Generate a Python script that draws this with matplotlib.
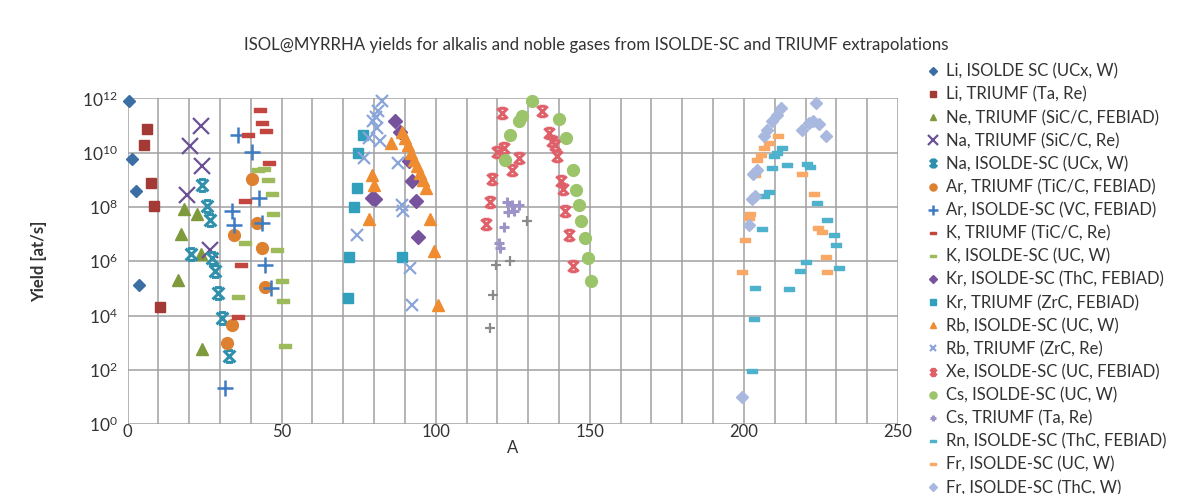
import matplotlib
matplotlib.use("Agg")
import matplotlib.pyplot as plt
from matplotlib.path import Path
from matplotlib.ticker import MultipleLocator, FixedLocator

plt.rcParams['font.family'] = ['Lato', 'DejaVu Sans']

# ---------------- data (A, yield at/s) ----------------
li_iso_A = [0.5, 1.3, 2.6, 3.8]
li_iso_Y = [8e11, 6e9, 4e8, 1.3e5]

li_tri_A = [6.4, 5.5, 7.6, 8.7, 10.6]
li_tri_Y = [7.4e10, 1.9e10, 7.6e8, 1.05e8, 2.1e4]

ne_tri_A = [18.4, 22.5, 17.4, 23.9, 16.3, 24.3]
ne_tri_Y = [8.5e7, 5.5e7, 1e7, 1.9e6, 2e5, 6e2]

na_tri_A = [23.9, 20.3, 24.3, 19.2, 26.8]
na_tri_Y = [1.0e11, 1.7e10, 3.3e9, 2.7e8, 2.5e6]

na_iso_A = [24.3, 25.8, 26.8, 20.5, 27.5, 28.5, 29.3, 30.6, 33.0]
na_iso_Y = [6.6e8, 1.05e8, 3.4e7, 1.9e6, 1.3e6, 4.5e5, 6.6e4, 8e3, 3.1e2]

ar_tri_A = [40.3, 34.7, 43.6, 42.0, 44.6, 33.8, 32.2]
ar_tri_Y = [1.1e9, 9.3e6, 3.2e6, 2.6e7, 1.1e5, 4.3e3, 9.5e2]

ar_iso_A = [36.0, 40.3, 42.8, 33.8, 34.6, 43.8, 44.6, 46.6, 31.5]
ar_iso_Y = [4.6e10, 1.1e10, 2.1e8, 6.9e7, 2.2e7, 2.6e7, 7.4e5, 1e5, 21]

k_tri_A = [43.0, 43.6, 45.0, 39.2, 45.9, 38.1, 36.9, 36.0]
k_tri_Y = [3.9e11, 1.3e11, 6.5e10, 4.4e10, 4.2e9, 1.7e8, 7e5, 8.5e3]

k_iso_A = [42.3, 44.2, 45.7, 46.8, 47.3, 38.1, 48.4, 50.0, 36.0, 50.3, 51.1]
k_iso_Y = [2.3e9, 2.5e9, 1e9, 3e8, 5.5e7, 4.7e6, 2.5e6, 1.8e5, 5e4, 3.5e4, 7.2e2]

kr_iso_A = [86.9, 88.3, 91.2, 92.3, 93.7, 94.1, 79.3, 80.4]
kr_iso_Y = [1.45e11, 6e10, 5e9, 9.3e8, 1.6e8, 7.6e6, 2.1e8, 1.9e8]

kr_tri_A = [76.4, 74.9, 74.4, 73.5, 72.0, 89.0, 71.7]
kr_tri_Y = [4.6e10, 9.8e9, 5.2e8, 9.8e7, 1.4e6, 1.4e6, 4.6e4]

rb_iso_A = [85.4, 79.3, 79.9, 78.5, 89, 90, 91, 92, 93, 94, 95, 96, 97, 98.0, 99.5, 100.9]
rb_iso_Y = [2.3e10, 1.55e9, 6.6e8, 3.6e7, 6e10, 3.6e10, 2e10, 1e10, 5.6e9, 3.2e9,
            1.8e9, 1e9, 5e8, 3.6e7, 2.4e6, 2.5e4]

rb_tri_A = [82.5, 81.4, 80.5, 79.8, 80.9, 78.2, 81.8, 76.6, 87.9, 89.0, 89.5, 74.4, 91.7, 92.3]
rb_tri_Y = [8e11, 3.4e11, 2e11, 1.45e11, 8.1e10, 3.5e10, 2.6e10, 6.3e9, 4.2e9, 1.2e8,
            6.9e7, 9.3e6, 5.6e5, 2.5e4]

xe_iso_A = [121.5, 134.5, 136.6, 137.8, 119.9, 122.0, 126.9, 124.7, 138.8, 139.5, 118.2,
            140.5, 141.3, 117.5, 142.0, 116.4, 143.1, 144.5]
xe_iso_Y = [2.9e11, 3.5e11, 5.4e10, 2.8e10, 1.1e10, 1.5e10, 6.3e9, 2.3e9, 2e10, 7.4e9,
            1.1e9, 9.3e8, 4.7e8, 1.5e8, 6.9e7, 2.3e7, 9.3e6, 6.5e5]

cs_iso_A = [131.2, 128.0, 126.9, 124.2, 122.6, 139.9, 142.4, 144.5, 145.6, 146.4,
            147.2, 148.5, 149.3, 150.4]
cs_iso_Y = [8e11, 2.2e11, 1.45e11, 4.6e10, 5.5e9, 1.7e11, 3.5e10, 2.3e9, 4.3e8, 1.15e8,
            3e7, 7.1e6, 1.3e6, 1.8e5]

cs_tri_A = [123.1, 124.7, 126.9, 123.6, 125.5, 122.0, 120.4, 121.0]
cs_tri_Y = [1.55e8, 1.2e8, 1.2e8, 6.6e7, 7.2e7, 1.9e7, 4.6e6, 3e6]

extra_A = [129.6, 124.0, 119.6, 118.6, 117.5]
extra_Y = [3e7, 1e6, 7.4e5, 5.5e4, 3.6e3]

rn_iso_A = [212.4, 210.8, 209.7, 209.2, 214.0, 220.5, 221.6, 208.1, 206.4, 223.6, 205.9,
            227.1, 229.3, 229.8, 220.0, 218.3, 230.9, 203.7, 214.6, 203.4, 202.6]
rn_iso_Y = [1.5e10, 9.8e9, 7.4e9, 2.8e9, 3.5e9, 3.8e9, 2.9e9, 3.5e8, 2.5e8, 1.4e8, 1.6e7,
            3.4e7, 9.3e6, 4e6, 9.3e5, 4.5e5, 5.6e5, 1e5, 9.3e4, 7.4e3, 91]

fr_uc_A = [211.2, 208.1, 206.4, 205.4, 204.3, 203.7, 218.9, 222.6, 201.9, 201.6, 200.5,
           224.0, 225.5, 226.6, 199.4, 227.0]
fr_uc_Y = [4e10, 2.3e10, 1.5e10, 8.5e9, 5.5e9, 1.5e9, 1.6e9, 3e8, 5.5e7, 3.9e7, 6.2e6,
           1.7e7, 1.2e7, 1.4e6, 4e5, 4e5]

fr_thc_A = [211.9, 210.8, 209.2, 207.5, 206.4, 223.5, 222.5, 221.0, 224.5, 218.9, 226.5,
            204.3, 203.1, 203.7, 202.6, 201.8, 199.4]
fr_thc_Y = [4.5e11, 2.5e11, 1.45e11, 7.1e10, 4e10, 6.8e11, 1.45e11, 1.25e11, 1.15e11,
            7.1e10, 4e10, 2.3e9, 1.6e9, 2.5e8, 1.9e8, 2.2e7, 10]

# ---------------- markers ----------------
star = Path([(-1, -1), (1, 1), (-1, 1), (1, -1), (-0.6, 1), (0.6, 1), (-0.6, -1), (0.6, -1)],
            [Path.MOVETO, Path.LINETO, Path.MOVETO, Path.LINETO,
             Path.MOVETO, Path.LINETO, Path.MOVETO, Path.LINETO])
dash = Path([(-1, -0.38), (1, -0.38), (1, 0.38), (-1, 0.38), (-1, -0.38)],
            [Path.MOVETO, Path.LINETO, Path.LINETO, Path.LINETO, Path.CLOSEPOLY])

series = [
    (li_iso_A, li_iso_Y, 'Li, ISOLDE SC (UCx, W)', 'D', '#3B6EA5', 6.5, 1),
    (li_tri_A, li_tri_Y, 'Li, TRIUMF (Ta, Re)', 's', '#A33A36', 7.5, 1),
    (ne_tri_A, ne_tri_Y, 'Ne, TRIUMF (SiC/C, FEBIAD)', '^', '#7E9A3C', 8, 1),
    (na_tri_A, na_tri_Y, 'Na, TRIUMF (SiC/C, Re)', 'x', '#6B5096', 11, 1.6),
    (na_iso_A, na_iso_Y, 'Na, ISOLDE-SC (UCx, W)', star, '#2E90AD', 8.5, 2.2),
    (ar_tri_A, ar_tri_Y, 'Ar, TRIUMF (TiC/C, FEBIAD)', 'o', '#DD8030', 8.5, 1),
    (ar_iso_A, ar_iso_Y, 'Ar, ISOLDE-SC (VC, FEBIAD)', '+', '#3D7BC2', 11, 1.8),
    (k_tri_A, k_tri_Y, 'K, TRIUMF (TiC/C, Re)', dash, '#C2463F', 8, 1),
    (k_iso_A, k_iso_Y, 'K, ISOLDE-SC (UC, W)', dash, '#9DBB5A', 8, 1),
    (kr_iso_A, kr_iso_Y, 'Kr, ISOLDE-SC (ThC, FEBIAD)', 'D', '#76539C', 7, 1),
    (kr_tri_A, kr_tri_Y, 'Kr, TRIUMF (ZrC, FEBIAD)', 's', '#30A0BC', 7.5, 1),
    (rb_iso_A, rb_iso_Y, 'Rb, ISOLDE-SC (UC, W)', '^', '#F08C30', 8, 1),
    (rb_tri_A, rb_tri_Y, 'Rb, TRIUMF (ZrC, Re)', 'x', '#8AA5DA', 8, 1.6),
    (xe_iso_A, xe_iso_Y, 'Xe, ISOLDE-SC (UC, FEBIAD)', star, '#E0606A', 7.5, 2.2),
    (cs_iso_A, cs_iso_Y, 'Cs, ISOLDE-SC (UC, W)', 'o', '#9CC46A', 8.5, 1),
    (cs_tri_A, cs_tri_Y, 'Cs, TRIUMF (Ta, Re)', '+', '#9C94C8', 7, 2.2),
    (rn_iso_A, rn_iso_Y, 'Rn, ISOLDE-SC (ThC, FEBIAD)', dash, '#4FB2CC', 7, 1),
    (fr_uc_A, fr_uc_Y, 'Fr, ISOLDE-SC (UC, W)', dash, '#F9A866', 7, 1),
    (fr_thc_A, fr_thc_Y, 'Fr, ISOLDE-SC (ThC, W)', 'D', '#A8B8DE', 6.5, 1),
    (extra_A, extra_Y, '_nolegend_', '+', '#8A8A8A', 7, 1.6),
]

fig = plt.figure(figsize=(11.92, 4.94), dpi=100)
ax = fig.add_axes([127.5 / 1192, 1 - 424 / 494, (898 - 127.5) / 1192, (424 - 98.5) / 494])

for A, Y, lab, mk, col, ms, mew in series:
    ax.plot(A, Y, linestyle='none', marker=mk, color=col, markersize=ms,
            markeredgewidth=mew, markeredgecolor=col, label=lab, clip_on=False)

ax.set_yscale('log')
ax.set_ylim(1, 1e12)
ax.set_xlim(0, 250)
ax.yaxis.set_major_locator(FixedLocator([10.0 ** k for k in range(0, 13, 2)]))
ax.yaxis.set_minor_locator(FixedLocator([]))
ax.set_yticklabels([r'$\mathregular{10^{%d}}$' % k for k in range(0, 13, 2)])
ax.xaxis.set_major_locator(MultipleLocator(50))
ax.xaxis.set_minor_locator(MultipleLocator(10))
ax.grid(True, which='major', axis='both', color='#A0A0A0', lw=1.1)
ax.grid(True, which='minor', axis='x', color='#A0A0A0', lw=1.1)
ax.set_axisbelow(True)
for s in ax.spines.values():
    s.set_visible(False)
ax.tick_params(which='both', length=0, labelsize=12.5, colors='#333333', pad=7)
ax.tick_params(axis='x', labelsize=12, pad=0)

ax.set_xlabel('A', fontsize=12, color='#333333', labelpad=0)
ax.set_ylabel('Yield [at/s]', fontsize=12, fontweight='bold', color='#333333', labelpad=25)

fig.text(0.5, 1 - 45 / 494,
         'ISOL@MYRRHA yields for alkalis and noble gases from ISOLDE-SC and TRIUMF extrapolations',
         ha='center', va='center', fontsize=12.2, color='#333333')

leg = fig.legend(loc='upper left', bbox_to_anchor=(920 / 1192, 1 - 57 / 494), frameon=False,
                 fontsize=12, markerscale=0.6, handlelength=0.8, handletextpad=0.35,
                 labelspacing=0.42, borderaxespad=0)
for t in leg.get_texts():
    t.set_color('#333333')

fig.savefig('out.png', dpi=100)
